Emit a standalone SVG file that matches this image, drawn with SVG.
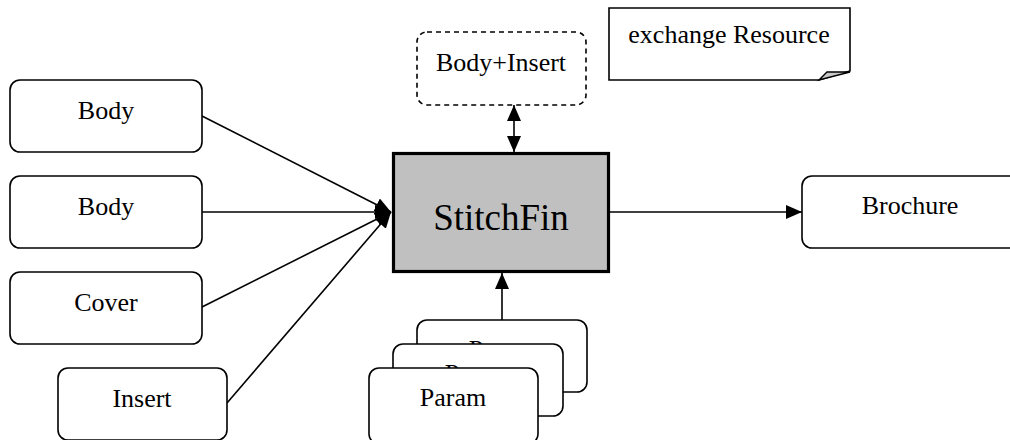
<svg xmlns="http://www.w3.org/2000/svg" width="1010" height="440" viewBox="0 0 1010 440">
<style>
.n{fill:#fff;stroke:#000;stroke-width:1.6}
.t{font-family:"Liberation Serif","Times New Roman",serif;font-size:26px;fill:#000;text-anchor:middle}
.c{stroke:#000;stroke-width:1.6;fill:none}
</style>
<defs>
<marker id="ah" viewBox="0 0 16 14" refX="16" refY="7" markerWidth="16" markerHeight="14" markerUnits="userSpaceOnUse" orient="auto-start-reverse">
<path d="M0,0 L16,7 L0,14 Z" fill="#000"/>
</marker>
</defs>
<rect width="1010" height="440" fill="#fff"/>
<g id="connectors">
<line class="c" x1="202" y1="116" x2="391" y2="212" marker-end="url(#ah)"/>
<line class="c" x1="202" y1="212" x2="391" y2="212" marker-end="url(#ah)"/>
<line class="c" x1="202" y1="307" x2="391" y2="212" marker-end="url(#ah)"/>
<line class="c" x1="227" y1="403" x2="391" y2="212" marker-end="url(#ah)"/>
<line class="c" x1="610" y1="212" x2="802" y2="212" marker-end="url(#ah)"/>
<line class="c" x1="502" y1="320" x2="502" y2="273" marker-end="url(#ah)"/>
<line class="c" x1="514" y1="105" x2="514" y2="152" marker-start="url(#ah)" marker-end="url(#ah)"/>
</g>
<g id="body1">
<rect class="n" x="10" y="80" width="192" height="72" rx="10"/>
<text class="t" x="106" y="119">Body</text>
</g>
<g id="body2">
<rect class="n" x="10" y="176" width="192" height="72" rx="10"/>
<text class="t" x="106" y="215">Body</text>
</g>
<g id="cover">
<rect class="n" x="10" y="272" width="192" height="72" rx="10"/>
<text class="t" x="106" y="311">Cover</text>
</g>
<g id="insert">
<rect class="n" x="58" y="368" width="169" height="72" rx="10"/>
<text class="t" x="142" y="407">Insert</text>
</g>
<g id="stitchfin">
<rect x="393.5" y="153.5" width="215" height="118" fill="#c0c0c0" stroke="#000" stroke-width="3.2"/>
<text class="t" x="501" y="230" style="font-size:37px">StitchFin</text>
</g>
<g id="bodyinsert">
<rect class="n" x="417" y="32" width="169" height="73" rx="10" stroke-dasharray="5,4"/>
<text class="t" x="501" y="71">Body+Insert</text>
</g>
<g id="note">
<path class="n" d="M609,8 H850 V71 L819,80 H609 Z"/>
<path d="M819,80 L827,72 H850 Z" fill="#c8c8c8" stroke="#000" stroke-width="1.4"/>
<text class="t" x="729" y="43">exchange Resource</text>
</g>
<g id="brochure">
<rect class="n" x="802" y="176" width="220" height="72" rx="10"/>
<text class="t" x="910" y="214">Brochure</text>
</g>
<g id="params">
<rect class="n" x="417" y="320" width="170" height="72" rx="10"/>
<text class="t" x="502" y="358">Param</text>
<rect class="n" x="393" y="344" width="170" height="72" rx="10"/>
<text class="t" x="478" y="382">Param</text>
<rect class="n" x="369" y="368" width="169" height="76" rx="10"/>
<text class="t" x="453" y="406">Param</text>
</g>
</svg>
